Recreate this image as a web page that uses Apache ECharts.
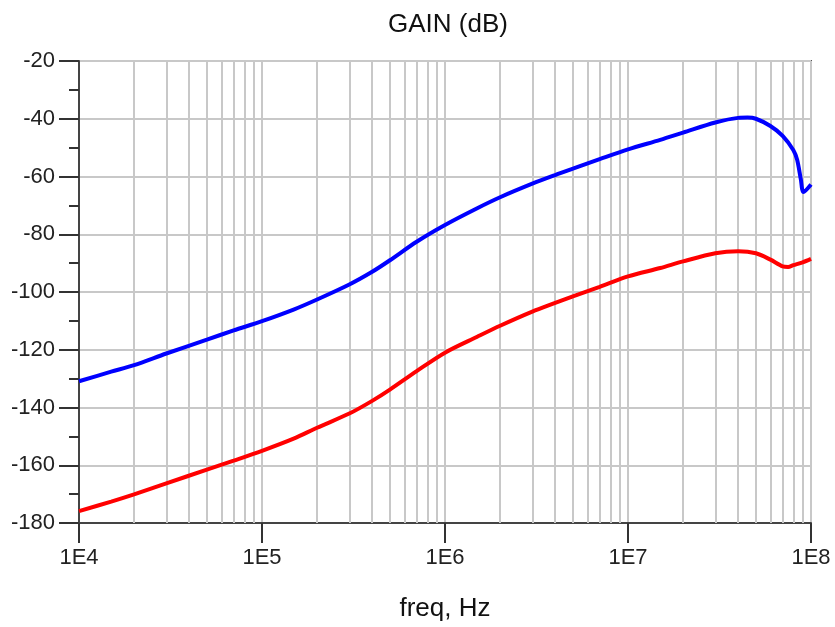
<!DOCTYPE html>
<html>
<head>
<meta charset="utf-8">
<script src="https://cdn.jsdelivr.net/npm/echarts@6/dist/echarts.min.js"></script>
<style>
  html, body { margin: 0; padding: 0; background: #fff; }
  #chart { width: 835px; height: 627px; }
</style>
</head>
<body>
<div id="chart"></div>
<script>
// frequencies in Hz, gain in dB
var freqBlue = [1e4, 1.5e4, 2e4, 3e4, 5e4, 7e4, 1e5, 1.5e5, 2e5, 3e5, 4e5, 5e5, 7e5, 1e6, 1.5e6, 2e6, 3e6, 4e6, 5e6, 7e6,
                1e7, 1.5e7, 2e7, 3e7, 4e7, 4.5e7, 5e7, 6e7, 7e7, 8e7, 8.4e7, 8.8e7, 9.1e7, 1e8];
var gainBlue = [-130.9, -127.6, -125.3, -121.3, -116.5, -113.3, -110.1, -106.0, -102.6, -97.4, -93.0, -89.0, -82.6, -76.8, -71.0, -67.2, -62.5, -59.5, -57.3, -54.0,
                -50.6, -47.3, -44.8, -41.3, -39.7, -39.6, -40.0, -42.5, -45.9, -50.8, -54.2, -61.0, -65.4, -62.8];

var freqRed = [1e4, 1.5e4, 2e4, 3e4, 5e4, 7e4, 1e5, 1.5e5, 2e5, 3e5, 4e5, 5e5, 7e5, 1e6, 1.5e6, 2e6, 3e6, 4e6, 5e6, 7e6,
               1e7, 1.5e7, 2e7, 3e7, 4e7, 5e7, 6e7, 7e7, 7.5e7, 8e7, 9e7, 1e8];
var gainRed = [-175.9, -172.6, -170.1, -166.3, -161.5, -158.4, -155.0, -150.7, -147.0, -142.1, -137.7, -133.8, -127.4, -121.0, -115.5, -111.7, -106.8, -103.8, -101.5, -98.2,
               -94.6, -91.7, -89.4, -86.6, -85.9, -86.6, -88.8, -91.1, -91.3, -90.7, -89.7, -88.5];

var decades = [1e4, 1e5, 1e6, 1e7];
var minorSteps = [2, 3, 4, 5, 6, 7, 8, 9];

function pairs(xs, ys) {
  return xs.map(function (x, i) { return [x, ys[i]]; });
}

// light vertical grid lines inside each decade (2..9)
var minorGrid = [];
decades.forEach(function (d) {
  minorSteps.forEach(function (k) { minorGrid.push({ xAxis: d * k }); });
});

var font = 'Arial, "Liberation Sans", sans-serif';
var chart = echarts.init(document.getElementById('chart'));

var option = {
  animation: false,
  title: {
    text: 'GAIN (dB)',
    left: 443,
    textAlign: 'center',
    top: 7,
    textStyle: { fontFamily: font, fontSize: 26, fontWeight: 'normal', color: '#111' }
  },
  grid: {
    left: 79, right: 24, top: 61, bottom: 103,
    show: true, borderColor: '#555', borderWidth: 2
  },
  xAxis: {
    type: 'log',
    logBase: 10,
    min: 1e4,
    max: 1e8,
    name: 'freq, Hz',
    nameLocation: 'middle',
    nameGap: 73,
    nameTextStyle: { fontFamily: font, fontSize: 26, color: '#111' },
    axisLine: { lineStyle: { color: '#444', width: 2 } },
    axisTick: { length: 20, lineStyle: { color: '#333', width: 2 } },
    axisLabel: {
      margin: 24, fontFamily: font, fontSize: 22, color: '#222',
      formatter: function (v) { return '1E' + Math.round(Math.log10(v)); }
    },
    splitLine: { show: true, lineStyle: { color: '#c8c8c8', width: 2 } }
  },
  yAxis: {
    type: 'value',
    min: -180,
    max: -20,
    interval: 20,
    axisLine: { show: true, lineStyle: { color: '#444', width: 2 } },
    axisTick: { show: true, length: 20, lineStyle: { color: '#333', width: 2 } },
    minorTick: { show: true, splitNumber: 2, length: 10, lineStyle: { color: '#333', width: 2 } },
    axisLabel: { margin: 24, fontFamily: font, fontSize: 22, color: '#222' },
    splitLine: { show: true, lineStyle: { color: '#c8c8c8', width: 2 } }
  },
  series: [
    {
      type: 'line',
      data: [],
      z: 1,
      silent: true,
      markLine: {
        silent: true,
        symbol: 'none',
        label: { show: false },
        lineStyle: { color: '#c8c8c8', width: 2, type: 'solid' },
        data: minorGrid
      }
    },
    {
      name: 'blue',
      type: 'line',
      data: pairs(freqBlue, gainBlue),
      showSymbol: false,
      smooth: 0.3,
      z: 5,
      lineStyle: { color: '#0000ff', width: 4 }
    },
    {
      name: 'red',
      type: 'line',
      data: pairs(freqRed, gainRed),
      showSymbol: false,
      smooth: 0.3,
      z: 5,
      lineStyle: { color: '#ff0000', width: 4 }
    }
  ]
};

chart.setOption(option);
</script>
</body>
</html>
